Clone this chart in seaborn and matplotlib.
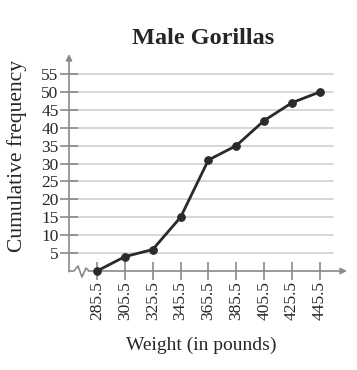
import matplotlib
matplotlib.use("Agg")
import matplotlib.pyplot as plt
import seaborn as sns
import pandas as pd

# ogive data
weights = [285.5, 305.5, 325.5, 345.5, 365.5, 385.5, 405.5, 425.5, 445.5]
cum_freq = [0, 4, 6, 15, 31, 35, 42, 47, 50]
y_ticks = [5, 10, 15, 20, 25, 30, 35, 40, 45, 50, 55]

df = pd.DataFrame({"Weight": weights, "Cumulative": cum_freq})

sns.set_style("white")
plt.rcParams["font.family"] = ["Liberation Serif", "DejaVu Serif"]

fig = plt.figure(figsize=(3.57, 3.70), dpi=100)
# axes placed in pixels: left spine x=69, x-axis y=271
W, H = 357, 370
ax = fig.add_axes([69 / W, 1 - 271 / H, (347 - 69) / W, (271 - 54) / H])

x0, x1 = 265.4, 465.0
y0, y1 = 0, 60.6
ax.set_xlim(x0, x1)
ax.set_ylim(y0, y1)

axis_col = "#8a8a8a"
grid_col = "#cfcfcf"

# horizontal grid lines
grid_end = 454.8
for t in y_ticks:
    ax.plot([x0, grid_end], [t, t], color=grid_col, lw=1.2, zorder=0)

# y axis with arrow
ax.annotate("", xy=(x0, y1), xytext=(x0, -0.2),
            arrowprops=dict(arrowstyle="-|>", color=axis_col, lw=1.2,
                            mutation_scale=9, shrinkA=0, shrinkB=0),
            annotation_clip=False)
# x axis with break and arrow
u = (x1 - x0) / 278.0  # data units per pixel
v = (y1 - y0) / 217.0
zx = [x0, x0 + 5 * u, x0 + 9 * u, x0 + 13 * u, x0 + 17 * u, x0 + 20 * u]
zy = [0, 0, 5 * v, -6 * v, 3 * v, 0]
ax.plot(zx, zy, color=axis_col, lw=1.2, clip_on=False, zorder=1)
ax.annotate("", xy=(x1, 0), xytext=(zx[-1], 0),
            arrowprops=dict(arrowstyle="-|>", color=axis_col, lw=1.2,
                            mutation_scale=9, shrinkA=0, shrinkB=0),
            annotation_clip=False)

sns.lineplot(data=df, x="Weight", y="Cumulative", ax=ax, color="#2a2a2a",
             marker="o", markersize=5.5, markeredgecolor="#2a2a2a",
             linewidth=2, zorder=5, clip_on=False)

for s in ax.spines.values():
    s.set_visible(False)

ax.set_xticks(weights)
ax.set_xticklabels([f"{w:.1f}" for w in weights], rotation=90)
ax.set_yticks(y_ticks)
ax.tick_params(axis="both", direction="inout", length=13, width=1.2,
               color=axis_col, labelsize=12.5, pad=1, bottom=True, left=True)
ax.tick_params(axis="x", pad=1)

ax.set_xlabel("Weight (in pounds)", fontsize=14)
ax.set_ylabel("Cumulative frequency", fontsize=15.5)
ax.xaxis.set_label_coords((201 - 69) / 278, -(345 - 271) / 217, transform=ax.transAxes)
ax.xaxis.label.set_va("center")
ax.yaxis.set_label_coords(-(69 - 17) / 278, (271 - 156) / 217, transform=ax.transAxes)
ax.yaxis.label.set_va("center")
fig.text(203 / W, 1 - 38 / H, "Male Gorillas", ha="center", va="center",
         fontsize=17.5, fontweight="bold")

fig.savefig("out.png", dpi=100, facecolor="white")
